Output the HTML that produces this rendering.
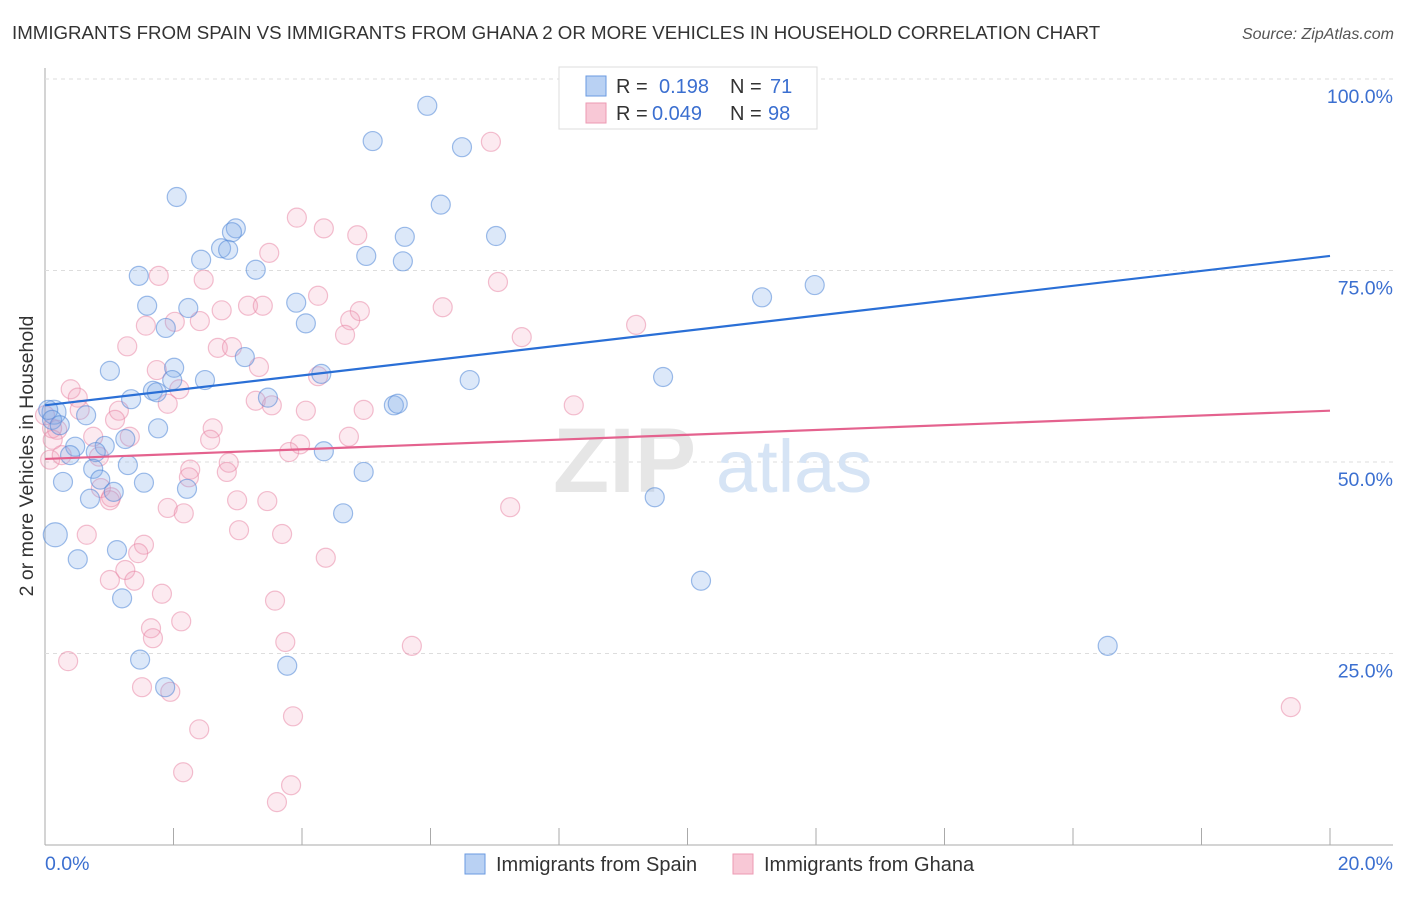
<!DOCTYPE html>
<html><head><meta charset="utf-8"><style>
body{margin:0;background:#fff;font-family:"Liberation Sans",sans-serif;}
svg text{font-family:"Liberation Sans",sans-serif;}
</style></head><body>
<svg id="chart" width="1406" height="892">
<text x="12" y="39" font-size="18.7" fill="#333">IMMIGRANTS FROM SPAIN VS IMMIGRANTS FROM GHANA 2 OR MORE VEHICLES IN HOUSEHOLD CORRELATION CHART</text>
<text x="1394" y="39" font-size="16" fill="#555" font-style="italic" text-anchor="end">Source: ZipAtlas.com</text>
<text transform="translate(33,456) rotate(-90)" font-size="19.5" fill="#333" text-anchor="middle">2 or more Vehicles in Household</text>
<g id="grid"></g>
<g>
<text x="553" y="492" font-size="92" fill="#e6e6e6" font-family="Liberation Serif" font-weight="bold">ZIP</text>
<text x="716" y="492" font-size="74" fill="#d6e4f5">atlas</text>
</g>
<g id="pts"></g>
<g id="lines"></g>
<g>
<rect x="559" y="67" width="258" height="62" fill="#fff" stroke="#ddd"/>
<rect x="586" y="76" width="20" height="20" fill="#b9d1f3" stroke="#6a9ae0"/>
<rect x="586" y="103" width="20" height="20" fill="#f8c8d6" stroke="#ec9ab3"/>
<text x="616" y="93" font-size="20" fill="#333">R = </text><text x="659" y="93" font-size="20" fill="#3b6fd0">0.198</text>
<text x="730" y="93" font-size="20" fill="#333">N = </text><text x="770" y="93" font-size="20" fill="#3b6fd0">71</text>
<text x="616" y="120" font-size="20" fill="#333">R = </text><text x="652" y="120" font-size="20" fill="#3b6fd0">0.049</text>
<text x="730" y="120" font-size="20" fill="#333">N = </text><text x="768" y="120" font-size="20" fill="#3b6fd0">98</text>
</g>
<g>
<rect x="465" y="854" width="20" height="20" fill="#b9d1f3" stroke="#6a9ae0"/>
<text x="496" y="871" font-size="20" fill="#333">Immigrants from Spain</text>
<rect x="733" y="854" width="20" height="20" fill="#f8c8d6" stroke="#ec9ab3"/>
<text x="764" y="871" font-size="20" fill="#333">Immigrants from Ghana</text>
</g>
</svg>
<script>
const xTicks=[0,2,4,6,8,10,12,14,16,18,20];
const xTickLabels=["0.0%","20.0%"];
const yTicks=[25,50,75,100];
const yTickLabels=["25.0%","50.0%","75.0%","100.0%"];
const spainX=[8.31,5.95,5.10,6.49,2.05,6.16,2.97,2.91,2.74,2.85,5.60,7.02,5.00,5.57,2.43,3.28,1.46,11.16,11.98,1.59,2.23,3.91,4.06,1.88,3.11,1.01,2.01,4.30,2.49,6.61,9.62,1.68,1.74,1.34,3.47,5.43,5.49,0.14,0.64,1.76,1.25,0.93,0.47,0.39,0.79,1.29,4.34,0.75,4.96,0.86,0.28,1.54,1.07,2.21,0.70,9.49,4.64,0.16,1.12,0.51,10.21,1.20,1.48,3.77,1.87,16.54,0.05,0.11,0.23,1.98];
const spainY=[100.0,96.5,91.9,91.1,84.6,83.6,80.5,80.0,77.9,77.7,79.4,79.5,76.9,76.2,76.4,75.1,74.3,71.5,73.1,70.4,70.1,70.8,68.1,67.5,63.7,61.9,62.3,61.5,60.7,60.7,61.1,59.3,59.1,58.2,58.4,57.4,57.6,56.5,56.1,54.4,53.0,52.1,52.0,50.9,51.3,49.6,51.4,49.1,48.7,47.7,47.4,47.3,46.1,46.5,45.2,45.4,43.3,40.5,38.5,37.3,34.5,32.2,24.2,23.4,20.6,26.0,56.8,55.5,54.8,60.7];
const ghanaX=[6.94,3.92,4.34,4.86,3.49,1.77,2.47,4.25,6.19,4.90,2.75,3.16,3.39,2.41,1.57,2.02,4.75,4.67,7.05,7.42,9.20,1.28,2.69,2.91,3.33,1.74,4.25,0.40,0.51,2.09,3.28,1.91,3.53,1.15,4.06,4.96,8.23,0.54,1.09,0.75,1.32,2.61,0.19,2.57,3.97,4.73,3.80,0.11,0.84,2.86,2.26,2.24,2.83,0.87,1.03,1.01,2.99,3.46,1.91,2.16,7.24,0.65,3.02,3.69,1.54,1.45,4.37,1.25,1.01,1.39,1.82,3.58,1.65,2.12,1.68,3.74,5.71,0.36,1.51,1.95,2.40,3.86,2.15,3.83,3.61,19.39,0.08,0.26,0.0,0.12];
const ghanaY=[91.8,81.9,80.5,79.6,77.3,74.3,73.8,71.7,70.2,69.7,69.8,70.4,70.4,68.4,67.8,68.3,68.5,66.6,73.5,66.3,67.9,65.1,64.9,65.0,62.4,62.0,61.2,59.5,58.4,59.5,58.0,57.6,57.4,56.7,56.7,56.8,57.4,56.8,55.5,53.3,53.3,54.4,54.2,52.9,52.3,53.3,51.3,54.4,50.7,49.9,49.0,48.0,48.7,46.6,45.4,45.0,45.0,44.9,44.0,43.3,44.1,40.5,41.1,40.6,39.2,38.1,37.5,35.9,34.6,34.5,32.8,31.9,28.3,29.2,27.0,26.5,26.0,24.0,20.6,20.0,15.1,16.8,9.5,7.8,5.6,18.0,50.3,50.9,56.1,52.9];
const spainTrend=[57.4,76.9];
const ghanaTrend=[50.4,56.7];
const trendX=[0,20];

const X0=45,X1=1330,Y0=845,Y1=79;
const sx=v=>X0+(v/20)*(X1-X0);
const sy=v=>Y0-(v/100)*(Y0-Y1);
const NS="http://www.w3.org/2000/svg";
function mk(tag,attrs,parent){const e=document.createElementNS(NS,tag);for(const k in attrs)e.setAttribute(k,attrs[k]);parent.appendChild(e);return e;}
const grid=document.getElementById('grid');
let ax=mk('line',{x1:X0,y1:68,x2:X0,y2:Y0,stroke:'#aaa','stroke-width':1},grid);


let bx=mk('line',{x1:X0,y1:Y0,x2:1393,y2:Y0,stroke:'#aaa','stroke-width':1},grid);


yTicks.forEach((t,i)=>{
  const g=mk('line',{x1:X0,y1:sy(t),x2:1393,y2:sy(t),stroke:'#ddd','stroke-dasharray':'4,4'},grid);
  
  
  const tx=mk('text',{x:1393,y:sy(t)+24,'font-size':19.5,fill:'#3b6fd0','text-anchor':'end'},grid);
  tx.textContent=yTickLabels[i];
  
  
});
xTicks.forEach(t=>{
  if(t===0)return;
  const l=mk('line',{x1:sx(t),y1:828,x2:sx(t),y2:Y0,stroke:'#aaa'},grid);
  
  
});
[[0,'start',45],[20,'end',1393]].forEach((a,i)=>{
  const tx=mk('text',{x:a[2],y:870,'font-size':19.5,fill:'#3b6fd0','text-anchor':a[1]},grid);
  tx.textContent=xTickLabels[i];
  
  
});
const pts=document.getElementById('pts');
ghanaX.forEach((x,i)=>{
  const c=mk('circle',{cx:sx(x),cy:sy(ghanaY[i]),r:9.5,fill:'rgba(242,160,185,0.22)',stroke:'rgba(232,130,162,0.5)','stroke-width':1.2},pts);
  
  
});
spainX.forEach((x,i)=>{
  const big=(i===37||i===57);
  const c=mk('circle',{cx:sx(x),cy:sy(spainY[i]),r:big?12:9.5,fill:'rgba(130,172,232,0.28)',stroke:'rgba(80,135,215,0.55)','stroke-width':1.2},pts);
  
  
});
const lines=document.getElementById('lines');
const l1=mk('line',{x1:sx(trendX[0]),y1:sy(spainTrend[0]),x2:sx(trendX[1]),y2:sy(spainTrend[1]),stroke:'#2a6fd6','stroke-width':2.2},lines);


const l2=mk('line',{x1:sx(trendX[0]),y1:sy(ghanaTrend[0]),x2:sx(trendX[1]),y2:sy(ghanaTrend[1]),stroke:'#e4628e','stroke-width':2.2},lines);


</script>
</body></html>
